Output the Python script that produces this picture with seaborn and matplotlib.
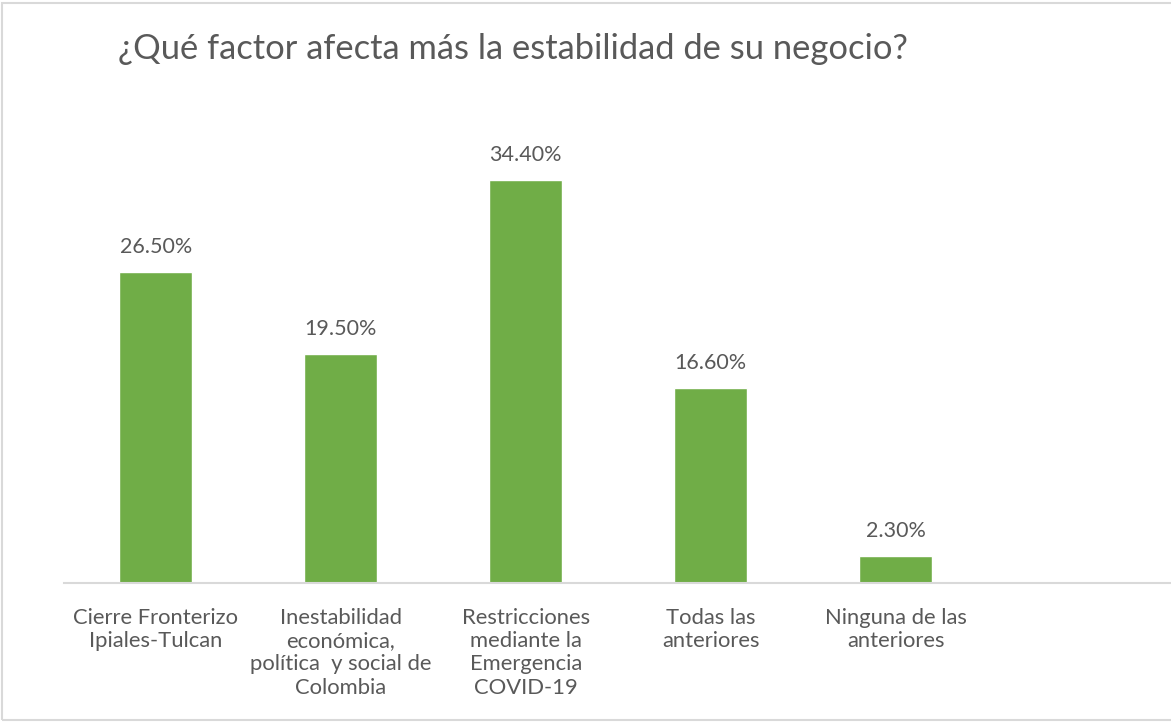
import numpy as np
import pandas as pd
import matplotlib
matplotlib.use('Agg')
import matplotlib.pyplot as plt
import seaborn as sns
from matplotlib.patches import Rectangle

# datos de la encuesta
categorias = ['Cierre Fronterizo\nIpiales-Tulcan',
              'Inestabilidad\neconómica,\npolítica  y social de\nColombia',
              'Restricciones\nmediante la\nEmergencia\nCOVID-19',
              'Todas las\nanteriores',
              'Ninguna de las\nanteriores']
porcentajes = [26.5, 19.5, 34.4, 16.6, 2.3]
titulo = '¿Qué factor afecta más la estabilidad de su negocio?'

df = pd.DataFrame({'categoria': categorias, 'porcentaje': porcentajes})

sns.set_theme(style='white')
plt.rcParams['font.family'] = ['Lato', 'DejaVu Sans']

texto = '#595959'
verde = '#70AD47'

fig = plt.figure(figsize=(11.71, 7.23), dpi=100)
ax = fig.add_axes([63.5 / 1171, 1 - 583 / 723, 1 - 63.5 / 1171, 40 * 11.72 / 723])

sns.barplot(data=df, x='categoria', y='porcentaje', color=verde, width=73 / 185,
            saturation=1, ax=ax)

# hay un hueco vacío a la derecha (sexta posición)
ax.set_xlim(-0.5, 5.49)
ax.set_ylim(0, 40)
ax.set_xlabel('')
ax.set_ylabel('')
ax.set_yticks([])
ax.tick_params(axis='x', length=0, pad=18, labelsize=15.8, labelcolor=texto)
for lab in ax.get_xticklabels():
    lab.set_linespacing(1.2)
for s in ['top', 'right', 'left']:
    ax.spines[s].set_visible(False)
ax.spines['bottom'].set_color('#D9D9D9')
ax.spines['bottom'].set_linewidth(1.5)

# etiquetas de valor
for c in ax.containers:
    ax.bar_label(c, labels=[f'{v:.2f}%' for v in porcentajes],
                 padding=11, fontsize=15.5, color=texto)

fig.text(118 / 1171, 1 - 49 / 723, titulo, fontsize=24.8, color=texto,
         va='center', ha='left')

# marco del gráfico
fig.patches.append(Rectangle((2 / 1171, 3 / 723), 1.0, 1 - 6 / 723, transform=fig.transFigure,
                             fill=False, edgecolor='#D9D9D9', linewidth=1.5))

fig.savefig('out.png', dpi=100)
